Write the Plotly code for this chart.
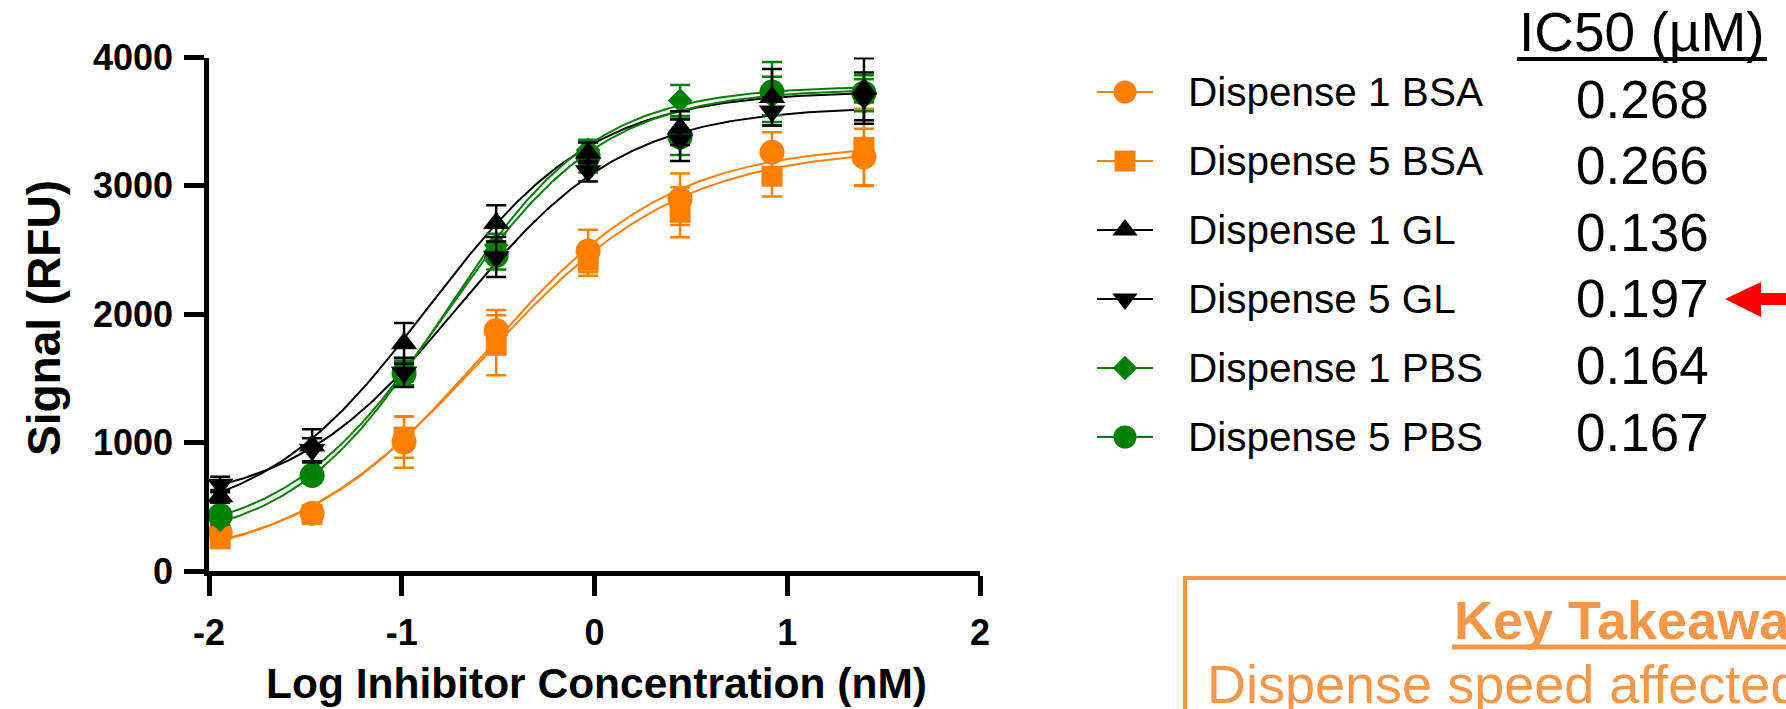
import numpy as np
import plotly.graph_objects as go

W, H = 1786, 709

# ---------------- data ----------------
log_conc = [-1.942, -1.465, -0.988, -0.510, -0.033, 0.444, 0.921, 1.398]

series_names = ["Dispense 1 BSA", "Dispense 5 BSA", "Dispense 1 GL",
                "Dispense 5 GL", "Dispense 1 PBS", "Dispense 5 PBS"]
ic50_um = ["0.268", "0.266", "0.136", "0.197", "0.164", "0.167"]

d1_bsa = [300, 450, 1004, 1874, 2493, 2896, 3262, 3225]
d1_bsa_err = [40, 40, 200, 160, 165, 200, 156, 220]
d5_bsa = [250, 440, 1043, 1758, 2420, 2794, 3075, 3300]
d5_bsa_err = [40, 40, 160, 234, 121, 195, 158, 300]
d1_gl = [581, 975, 1773, 2708, 3257, 3450, 3690, 3753]
d1_gl_err = [50, 130, 158, 141, 80, 131, 220, 241]
d5_gl = [674, 945, 1547, 2446, 3115, 3356, 3581, 3683]
d5_gl_err = [60, 90, 114, 156, 80, 162, 110, 200]
d1_pbs = [400, 740, 1560, 2537, 3280, 3665, 3701, 3740]
d1_pbs_err = [40, 50, 80, 90, 80, 120, 150, 90]
d5_pbs = [432, 744, 1539, 2459, 3230, 3382, 3731, 3722]
d5_pbs_err = [50, 50, 90, 110, 125, 142, 233, 140]

# four-parameter logistic fit parameters
fit_bottom = [60, 20, 350, 500, 200, 230]
fit_top = [3330, 3300, 3740, 3620, 3780, 3760]
fit_hill = [0.9, 0.85, 1.0, 1.0, 1.1, 1.05]

x_ticks = [-2, -1, 0, 1, 2]
x_ticktext = ["-2", "-1", "0", "1", "2"]
y_ticks = [0, 1000, 2000, 3000, 4000]
y_ticktext = ["0", "1000", "2000", "3000", "4000"]

# ---------------- styles ----------------
ORANGE, BLACK, GREEN = "#FF8000", "#000000", "#008000"
colors = [ORANGE, ORANGE, BLACK, BLACK, GREEN, GREEN]
symbols = ["circle", "square", "triangle-up", "triangle-down", "diamond", "circle"]
msize = [25, 21, 23, 23, 19, 25]
leg_msize = [23, 21, 22, 22, 19, 23]
values = [d1_bsa, d5_bsa, d1_gl, d5_gl, d1_pbs, d5_pbs]
errors = [d1_bsa_err, d5_bsa_err, d1_gl_err, d5_gl_err, d1_pbs_err, d5_pbs_err]
FONT = "Liberation Sans, Arial, sans-serif"
TAKE = "#F79646"

fig = go.Figure()

# fitted curves
xs = np.linspace(min(log_conc), max(log_conc), 300)
for i in range(6):
    logic = np.log10(float(ic50_um[i]))
    ys = fit_bottom[i] + (fit_top[i] - fit_bottom[i]) / (1 + 10 ** ((logic - xs) * fit_hill[i]))
    fig.add_trace(go.Scatter(x=xs, y=ys, mode="lines", line=dict(color=colors[i], width=2),
                             showlegend=False, hoverinfo="skip", xaxis="x", yaxis="y"))

# data points with error bars
for i in [0, 1, 4, 5, 2, 3]:
    fig.add_trace(go.Scatter(
        x=log_conc, y=values[i], mode="markers", name=series_names[i],
        marker=dict(symbol=symbols[i], size=msize[i], color=colors[i], opacity=1, line=dict(width=0)),
        error_y=dict(type="data", array=errors[i], visible=True, color=colors[i],
                     thickness=2.5, width=10),
        cliponaxis=False, showlegend=False, xaxis="x", yaxis="y"))

# legend glyphs (pixel overlay axes)
leg_x0, leg_x1, leg_y0, leg_dy = 1097, 1153, 92, 69
for i in range(6):
    yy = leg_y0 + i * leg_dy
    fig.add_trace(go.Scatter(
        x=[leg_x0, (leg_x0 + leg_x1) / 2, leg_x1], y=[yy, yy, yy], mode="lines+markers",
        line=dict(color=colors[i], width=2),
        marker=dict(symbol=symbols[i], size=[0, leg_msize[i], 0], color=colors[i], opacity=1,
                    line=dict(width=0)),
        showlegend=False, hoverinfo="skip", xaxis="x2", yaxis="y2"))

annotations = []
for i in range(6):
    annotations.append(dict(x=1186, y=leg_y0 + i * leg_dy, xref="x2", yref="y2",
                            text=series_names[i], showarrow=False, xanchor="left", yanchor="middle",
                            font=dict(family=FONT, size=40.5, color="black")))
ic_y0, ic_dy = 99, 66.6
for i in range(6):
    annotations.append(dict(x=1642, y=ic_y0 + i * ic_dy, xref="x2", yref="y2",
                            text=ic50_um[i], showarrow=False, xanchor="center", yanchor="middle",
                            font=dict(family=FONT, size=53, color="black")))
annotations.append(dict(x=1642, y=32, xref="x2", yref="y2", text="IC50 (µM)", showarrow=False,
                        xanchor="center", yanchor="middle", font=dict(family=FONT, size=55, color="black")))
annotations.append(dict(x=1452, y=620, xref="x2", yref="y2", text="<b>Key Takeaway</b>", showarrow=False,
                        xanchor="left", yanchor="middle", font=dict(family=FONT, size=54, color=TAKE)))
annotations.append(dict(x=1205, y=684, xref="x2", yref="y2", text="Dispense speed affected", showarrow=False,
                        xanchor="left", yanchor="middle", font=dict(family=FONT, size=54, color=TAKE)))
# axis titles
annotations.append(dict(x=596, y=683, xref="x2", yref="y2", text="<b>Log Inhibitor Concentration (nM)</b>",
                        showarrow=False, xanchor="center", yanchor="middle",
                        font=dict(family=FONT, size=42.5, color="black")))
annotations.append(dict(x=44, y=318, xref="x2", yref="y2", text="<b>Signal (RFU)</b>", textangle=-90,
                        showarrow=False, xanchor="center", yanchor="middle",
                        font=dict(family=FONT, size=46, color="black")))

shapes = [
    dict(type="line", xref="x2", yref="y2", x0=1517, x1=1767, y0=59, y1=59, line=dict(color="black", width=4)),
    dict(type="rect", xref="x2", yref="y2", x0=1185, x1=1900, y0=578, y1=800, line=dict(color=TAKE, width=4)),
    dict(type="line", xref="x2", yref="y2", x0=1452, x1=1900, y0=647, y1=647, line=dict(color=TAKE, width=5)),
    dict(type="path", xref="x2", yref="y2",
         path="M1725,299 L1761,282 L1761,293 L1800,293 L1800,305 L1761,305 L1761,317 Z",
         fillcolor="#FF0000", line=dict(width=0)),
]

axis_common = dict(showline=True, linewidth=4.5, linecolor="black", ticks="outside", ticklen=20,
                   tickwidth=4.5, tickcolor="black", showgrid=False, zeroline=False,
                   automargin=False,
                   tickfont=dict(family=FONT, size=36, color="black", weight="bold"))

fig.update_layout(
    width=W, height=H, margin=dict(l=0, r=0, t=0, b=0, autoexpand=False),
    paper_bgcolor="white", plot_bgcolor="rgba(0,0,0,0)", showlegend=False,
    xaxis=dict(domain=[209 / W, 980 / W], range=[-2, 2], tickvals=x_ticks, ticktext=x_ticktext,
               anchor="y", ticklabelstandoff=6, **axis_common),
    yaxis=dict(domain=[1 - 571 / H, 1 - 57.5 / H], range=[0, 4000], tickvals=y_ticks, ticktext=y_ticktext,
               anchor="x", ticklabelstandoff=4, **axis_common),
    xaxis2=dict(domain=[0, 1], range=[0, W], visible=False, anchor="y2", fixedrange=True),
    yaxis2=dict(domain=[0, 1], range=[H, 0], visible=False, anchor="x2", fixedrange=True),
    annotations=annotations, shapes=shapes,
)

fig.write_html("out.html", config={"displayModeBar": False},
               post_script="document.body.style.margin='0';document.body.style.overflow='hidden';")
